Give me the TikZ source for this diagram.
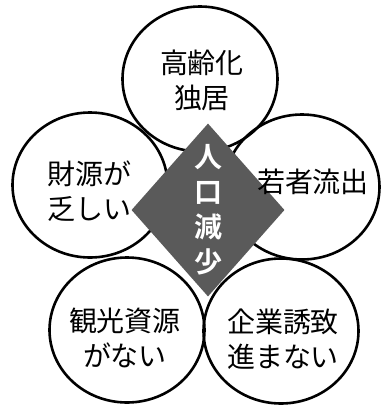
\documentclass[tikz,border=0pt]{standalone}
\usepackage{fontspec}
\setmainfont{Noto Sans CJK JP}
\newfontfamily\boldcjk{Noto Sans CJK JP Bold}
\usetikzlibrary{shapes.geometric}
\definecolor{diagray}{HTML}{5A5A5A}
\tikzset{
  bubble/.style={ellipse, draw=black, line width=2.6pt, minimum width=155pt, minimum height=145pt, inner sep=0pt},
  label/.style={align=center, font=\fontsize{28}{35}\selectfont, inner sep=0pt},
  core/.style={diamond, fill=diagray, minimum width=153pt, minimum height=173pt, inner sep=0pt},
  coretext/.style={align=center, text=white, font=\boldcjk\fontsize{28}{35}\selectfont, inner sep=0pt}
}
\begin{document}
\begin{tikzpicture}[x=1pt,y=-1pt]
\useasboundingbox (0,0) rectangle (385,408);
\node[bubble] (top) at (200,79) {};
\node[bubble] (left) at (90,185) {};
\node[bubble] (right) at (302,187) {};
\node[bubble] (bl) at (127,330) {};
\node[bubble] (br) at (281,331) {};
\node[core] (center) at (208,210) {};
\node[label] (ttop) at (202,80) {高齢化\\独居};
\node[label] (tleft) at (90,191) {財源が\\乏しい};
\node[label] (tright) at (313,182) {若者流出};
\node[label] (tbl) at (125,338) {観光資源\\がない};
\node[label] (tbr) at (283,339) {企業誘致\\進まない};
\node[coretext] (tcenter) at (208,210) {人\\口\\減\\少};
\end{tikzpicture}
\end{document}
